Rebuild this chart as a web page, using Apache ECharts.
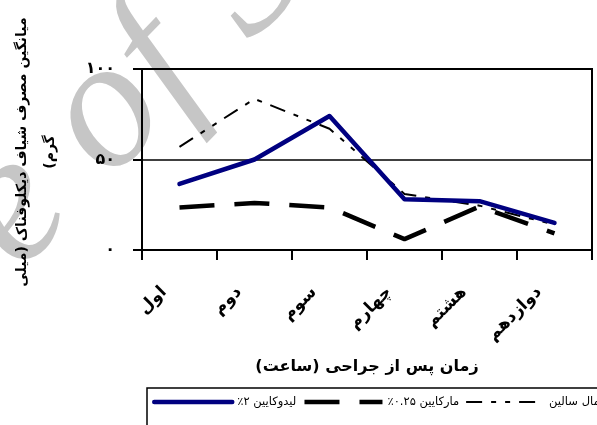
<!DOCTYPE html>
<html>
<head>
<meta charset="utf-8">
<script src="https://cdn.jsdelivr.net/npm/echarts@6/dist/echarts.min.js"></script>
<style>
html,body{margin:0;padding:0;background:#fff;}
#chart{width:597px;height:425px;direction:rtl;}
</style>
</head>
<body>
<div id="chart"></div>
<script>
const categories = ['اول', 'دوم', 'سوم', 'چهارم', 'هشتم', 'دوازدهم'];
const lidocaine = [36.5, 50, 74, 28, 27, 15];
const marcaine = [23.5, 26, 23.5, 6, 24, 9.2];
const saline = [57, 83.5, 67, 31, 24.5, 14];
const seriesNames = ['لیدوکایین ۲٪', 'مارکایین ۰.۲۵٪', 'نرمال سالین'];
const yTickValues = [0, 50, 100];
const yTickLabels = ['۰', '۵۰', '۱۰۰'];
const yTitle = 'میانگین مصرف شیاف دیکلوفناک (میلی\nگرم)';
const xTitle = 'زمان پس از جراحی (ساعت)';
const watermarkLetters = ['e', 'o', 'f', 'SID'];

const FONT = 'DejaVu Sans';
const WM_FONT = 'italic 185px "Liberation Serif"';
const WM_COLOR = '#c6c6c6';
const R = 0.8;
function wm(text, x, y, align) {
  return {type: 'text', z: -10, x: x, y: y, rotation: R,
    style: {text: text, x: 0, y: 0, textAlign: align, textVerticalAlign: 'middle', font: WM_FONT, fill: WM_COLOR}};
}
const chart = echarts.init(document.getElementById('chart'), null, {renderer: 'canvas'});
chart.setOption({
  animation: false,
  backgroundColor: '#fff',
  grid: {left: 142, right: 5, top: 69, bottom: 175, show: true, borderColor: '#000', borderWidth: 2, backgroundColor: 'transparent'},
  graphic: [
    wm(watermarkLetters[0], 13, 210, 'center'),
    wm(watermarkLetters[1], 106, 115, 'center'),
    wm(watermarkLetters[2], 160, 65, 'center'),
    wm(watermarkLetters[3], 215, 10, 'left'),
    {type: 'text', x: 36, y: 152, rotation: Math.PI / 2,
     style: {text: yTitle, textAlign: 'center', textVerticalAlign: 'middle', lineHeight: 28,
             font: 'bold 14px "DejaVu Sans"', fill: '#000'}},
    {type: 'rect', shape: {x: 147, y: 388, width: 520, height: 100},
     style: {fill: 'none', stroke: '#000', lineWidth: 1.5}}
  ],
  legend: {
    left: 152, top: 396, width: 600, padding: 0, itemWidth: 78, itemHeight: 14, itemGap: 6,
    data: seriesNames,
    textStyle: {fontSize: 11.5, fontFamily: FONT, color: '#000'},
    lineStyle: {width: 'inherit'},
    itemStyle: {opacity: 0}
  },
  xAxis: {
    type: 'category', data: categories, boundaryGap: true,
    name: xTitle, nameLocation: 'middle', nameGap: 109,
    nameTextStyle: {fontSize: 16, fontWeight: 'bold', fontFamily: FONT, color: '#000'},
    axisLine: {lineStyle: {color: '#000', width: 2}},
    axisTick: {show: true, length: 10, lineStyle: {color: '#000', width: 2}},
    axisLabel: {rotate: 45, margin: 24, padding: [0, 22, 0, 0], fontSize: 17, fontWeight: 'bold', fontFamily: FONT, color: '#000'},
    splitLine: {show: false}
  },
  yAxis: {
    type: 'value', min: 0, max: 100, interval: 50,
    axisLine: {show: true, lineStyle: {color: '#000', width: 2}},
    axisTick: {show: true, length: 9, lineStyle: {color: '#000', width: 2}},
    axisLabel: {margin: 27, fontSize: 16, fontWeight: 'bold', fontFamily: FONT, color: '#000',
      formatter: v => yTickLabels[yTickValues.indexOf(v)]},
    splitLine: {show: true, lineStyle: {color: '#000', width: 1.5}}
  },
  series: [
    {name: seriesNames[0], type: 'line', data: lidocaine, symbol: 'none', z: 5,
     lineStyle: {color: '#000080', width: 4.5, cap: 'round', join: 'round'}, itemStyle: {color: '#000080'}},
    {name: seriesNames[1], type: 'line', data: marcaine, symbol: 'none', z: 4,
     lineStyle: {color: '#000', width: 4.5, type: [35, 20], cap: 'butt'}, itemStyle: {color: '#000'}},
    {name: seriesNames[2], type: 'line', data: saline, symbol: 'none', z: 3,
     lineStyle: {color: '#000', width: 2, type: [16, 9, 5, 9, 5, 9]}, itemStyle: {color: '#000'}}
  ]
});
</script>
</body>
</html>
